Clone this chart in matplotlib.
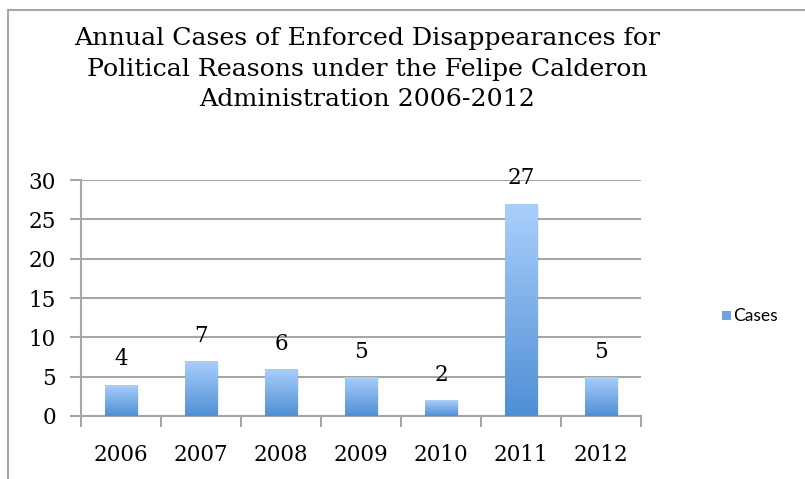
import matplotlib.pyplot as plt
import numpy as np
from matplotlib.colors import LinearSegmentedColormap
from matplotlib.patches import Rectangle

anos = ['2006', '2007', '2008', '2009', '2010', '2011', '2012']
casos = [4, 7, 6, 5, 2, 27, 5]

titulo = ('Annual Cases of Enforced Disappearances for\n'
          'Political Reasons under the Felipe Calderon\n'
          'Administration 2006-2012')

serif = 'DejaVu Serif'
cinza = '#a6a6a6'
gradiente = LinearSegmentedColormap.from_list('barra', ['#4f8fd6', '#abcffb'])

fig = plt.figure(figsize=(8.05, 4.79), dpi=100)
ax = fig.add_axes([81 / 805, 1 - 416 / 479, 560 / 805, 236 / 479])

# moldura do gráfico (só borda superior e esquerda aparecem)
fig.patches.append(Rectangle((8 / 805, -0.1), 1.2, 1 - 10 / 479 + 0.1,
                             transform=fig.transFigure, fill=False,
                             edgecolor=cinza, linewidth=1.5))

x = np.arange(len(anos))
largura = 0.41
barras = ax.bar(x, casos, width=largura, color='none', zorder=3)
for barra, valor in zip(barras, casos):
    x0 = barra.get_x()
    # sombra leve atrás da barra
    ax.add_patch(Rectangle((x0 + 0.02, 0), largura, valor - 0.1,
                           facecolor='#000000', alpha=0.06, zorder=2,
                           linewidth=0))
    img = ax.imshow(np.linspace(0, 1, 256).reshape(-1, 1), cmap=gradiente,
                    aspect='auto', origin='lower',
                    extent=(x0, x0 + largura, 0, valor), zorder=3)
    img.set_clip_path(barra)
    ax.text(x0 + largura / 2, valor + 1.8, str(valor), ha='center',
            va='bottom', fontsize=15.5, family=serif)

ax.set_xlim(-0.5, len(anos) - 0.5)
ax.set_ylim(0, 30)
ax.set_yticks(range(0, 31, 5))
ax.set_yticklabels([str(v) for v in range(0, 31, 5)], family=serif, fontsize=15.5)
ax.set_xticks(x)
ax.set_xticklabels(anos, family=serif, fontsize=15.5)
ax.set_xticks(np.arange(-0.5, len(anos), 1), minor=True)
ax.tick_params(axis='x', which='major', length=0, pad=20)
ax.tick_params(axis='x', which='minor', length=8, width=1.5, color=cinza)
ax.tick_params(axis='y', length=8, width=1.5, color=cinza, pad=10)

ax.grid(axis='y', color=cinza, linewidth=1.5, zorder=0)
ax.set_axisbelow(True)
for lado in ['top', 'right']:
    ax.spines[lado].set_visible(False)
for lado in ['left', 'bottom']:
    ax.spines[lado].set_color(cinza)
    ax.spines[lado].set_linewidth(1.5)

# legenda
fig.patches.append(Rectangle((722 / 805, 1 - 320 / 479), 9 / 805, 9 / 479,
                             transform=fig.transFigure,
                             facecolor='#6fa4e4', edgecolor='none'))
fig.text(733 / 805, 1 - 316 / 479, 'Cases', fontsize=12.5, family='Lato',
         va='center', ha='left')

fig.text(367 / 805, 1 - 27 / 479, titulo, ha='center', va='top',
         fontsize=18.2, family=serif, linespacing=1.43)

fig.savefig('out.png', dpi=100)
